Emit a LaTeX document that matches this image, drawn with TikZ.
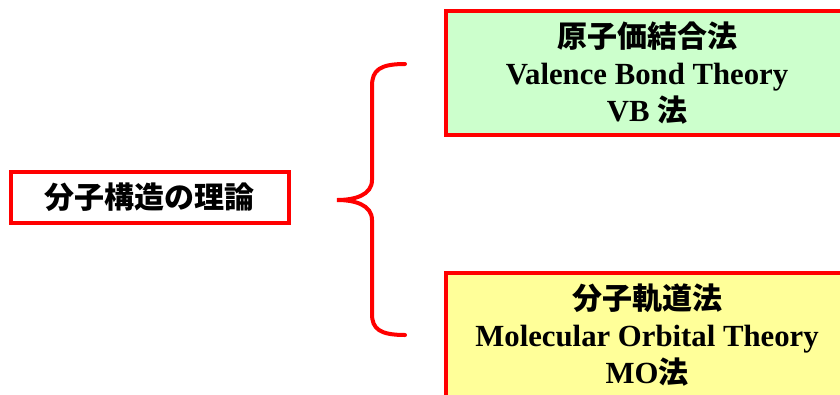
\documentclass[tikz,border=0pt]{standalone}
\usepackage{fontspec}
\setmainfont[Scale=1.025]{Liberation Serif}
\newfontfamily\cjk{Noto Sans CJK JP}
\definecolor{boxred}{HTML}{FF0000}
\definecolor{vbgreen}{HTML}{CCFFCC}
\definecolor{moyellow}{HTML}{FFFF99}
\tikzset{
  theorybox/.style={draw=boxred, line width=2.4pt, inner sep=0pt, align=center,
    minimum width=402*0.75pt, font=\fontsize{22.5}{27.5}\selectfont\bfseries},
  mainbox/.style={draw=boxred, line width=2.4pt, fill=white, inner sep=0pt,
    minimum width=278*0.75pt, minimum height=51*0.75pt, font=\fontsize{22.5}{28}\selectfont\bfseries},
  bracestyle/.style={draw=boxred, line width=3pt, line cap=round}
}
\begin{document}
\begin{tikzpicture}[x=0.75pt,y=-0.75pt]
\useasboundingbox (0,0) rectangle (840,394);
\clip (0,0) rectangle (840,394);
\fill[white] (0,0) rectangle (840,394);
\node[mainbox] (main) at (150,197.5) {\cjk 分子構造の理論};
\node[theorybox, fill=vbgreen, minimum height=124*0.75pt] (vb) at (647,73)
  {{\cjk 原子価結合法}\\Valence Bond Theory\\VB {\cjk 法}};
\node[theorybox, fill=moyellow, minimum height=124*0.75pt] (mo) at (647,335)
  {{\cjk 分子軌道法}\\Molecular Orbital Theory\\MO{\cjk 法}};
\coordinate (btop) at (405,64);
\coordinate (btip) at (337,200);
\coordinate (bbot) at (405,335);
\draw[bracestyle] (btop) .. controls (380,64) and (372,70) .. (372,86)
  -- (372,180) .. controls (372,195) and (355,200) .. (btip)
  .. controls (355,200) and (372,205) .. (372,220)
  -- (372,314) .. controls (372,329) and (380,335) .. (bbot);
\end{tikzpicture}
\end{document}
